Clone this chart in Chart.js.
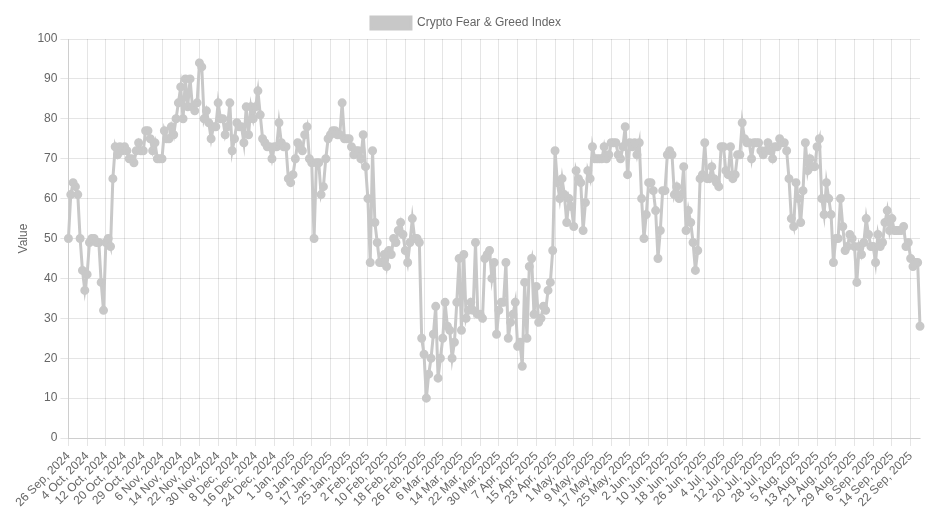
<!DOCTYPE html>
<html>
<head>
<meta charset="utf-8">
<script src="https://cdn.jsdelivr.net/npm/chart.js@4.4.1/dist/chart.umd.min.js"></script>
<style>
  html, body { margin: 0; padding: 0; background: #fff; }
  #wrap { width: 942px; height: 523px; position: relative; }
</style>
</head>
<body>
<div id="wrap"><canvas id="fng-chart"></canvas></div>
<script>
// daily dates 26 Sep 2024 .. 26 Sep 2025, one day missing in the source
const startDate = '2024-09-26';
const endDate = '2025-09-26';
const missingDates = ['2024-10-25'];
const monthNames = ['Jan', 'Feb', 'Mar', 'Apr', 'May', 'Jun', 'Jul', 'Aug', 'Sep', 'Oct', 'Nov', 'Dec'];

const fngValues = [
    50, 61, 64, 63, 61, 50, 42, 37, 41, 49, 50, 50, 49, 49, 39, 32, 49, 50, 48, 65,
    73, 71, 73, 72, 73, 72, 70, 70, 69, 72, 74, 72, 72, 77, 77, 75, 72, 74, 70, 70,
    70, 77, 75, 75, 78, 76, 80, 84, 88, 80, 90, 83, 90, 83, 82, 84, 94, 93, 80, 82,
    79, 75, 78, 78, 84, 80, 80, 76, 78, 84, 72, 75, 79, 78, 78, 74, 83, 76, 83, 80,
    83, 87, 81, 75, 74, 73, 73, 70, 73, 73, 79, 74, 73, 73, 65, 64, 66, 70, 74, 73,
    72, 76, 78, 70, 69, 50, 69, 69, 61, 63, 70, 75, 76, 77, 77, 76, 76, 84, 75, 75,
    75, 73, 71, 72, 72, 70, 76, 68, 60, 44, 72, 54, 49, 44, 44, 46, 43, 47, 46, 50,
    49, 52, 54, 51, 47, 44, 49, 55, 50, 50, 49, 25, 21, 10, 16, 20, 26, 33, 15, 20,
    25, 34, 28, 27, 20, 24, 34, 45, 27, 46, 30, 32, 34, 32, 49, 31, 31, 30, 45, 46,
    47, 40, 44, 26, 32, 34, 34, 44, 25, 29, 31, 34, 23, 24, 18, 39, 25, 43, 45, 31,
    38, 29, 30, 33, 32, 37, 39, 47, 72, 64, 60, 65, 61, 54, 60, 58, 53, 67, 65, 64,
    52, 59, 67, 65, 73, 70, 70, 70, 70, 73, 70, 71, 74, 74, 74, 71, 70, 73, 78, 66,
    74, 73, 74, 71, 74, 60, 50, 56, 64, 64, 62, 57, 45, 52, 62, 62, 71, 72, 71, 61,
    63, 60, 61, 68, 52, 57, 54, 49, 42, 47, 65, 66, 74, 65, 65, 68, 65, 64, 63, 73,
    73, 67, 66, 73, 65, 66, 71, 71, 79, 75, 74, 74, 70, 74, 74, 74, 72, 71, 72, 74,
    72, 70, 73, 73, 75, 74, 74, 72, 65, 55, 53, 64, 60, 54, 62, 74, 67, 70, 68, 68,
    73, 75, 60, 56, 64, 60, 56, 44, 50, 50, 60, 53, 47, 48, 51, 50, 48, 39, 48, 46,
    49, 55, 51, 48, 48, 44, 51, 48, 49, 54, 57, 52, 55, 52, 52, 52, 52, 53, 48, 49,
    45, 43, 44, 44, 28
];

const yTicks = [0, 10, 20, 30, 40, 50, 60, 70, 80, 90, 100];

function buildLabels() {
    const labels = [];
    const d = new Date(startDate + 'T00:00:00Z');
    const end = new Date(endDate + 'T00:00:00Z');
    while (d <= end) {
        const iso = d.toISOString().slice(0, 10);
        if (!missingDates.includes(iso)) {
            labels.push(d.getUTCDate() + ' ' + monthNames[d.getUTCMonth()] + ', ' + d.getUTCFullYear());
        }
        d.setUTCDate(d.getUTCDate() + 1);
    }
    return labels;
}

const labels = buildLabels();

new Chart(document.getElementById('fng-chart'), {
    type: 'line',
    data: {
        labels: labels,
        datasets: [{
            label: 'Crypto Fear & Greed Index',
            data: fngValues,
            borderColor: 'rgb(200, 200, 200)',
            backgroundColor: 'rgb(200, 200, 200)',
            borderWidth: 3,
            pointRadius: 3,
            tension: 0
        }]
    },
    options: {
        responsive: true,
        maintainAspectRatio: false,
        animation: false,
        layout: {
            padding: { top: 7, left: 12, right: 22, bottom: 10 }
        },
        plugins: {
            legend: {
                display: true,
                position: 'top'
            }
        },
        scales: {
            x: {
                ticks: {
                    autoSkip: false,
                    maxRotation: 45,
                    minRotation: 45,
                    callback: function (val, index) {
                        return index % 8 === 0 ? this.getLabelForValue(val) : null;
                    }
                }
            },
            y: {
                min: 0,
                max: 100,
                afterBuildTicks: (axis) => {
                    axis.ticks = yTicks.map(v => ({ value: v }));
                },
                title: {
                    display: true,
                    text: 'Value'
                }
            }
        }
    }
});
</script>
</body>
</html>
